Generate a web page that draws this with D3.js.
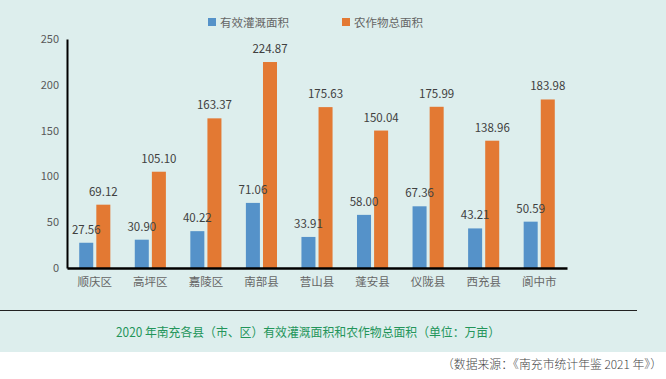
<!DOCTYPE html>
<html><head><meta charset="utf-8">
<script src="https://cdn.jsdelivr.net/npm/d3@7"></script>
<style>html,body{margin:0;padding:0;background:#fff;}svg{display:block;}</style>
</head><body>
<script>
const categories = ["顺庆区","高坪区","嘉陵区","南部县","营山县","蓬安县","仪陇县","西充县","阆中市"];
const seriesNames = ["有效灌溉面积","农作物总面积"];
const irrigated = [27.56,30.90,40.22,71.06,33.91,58.00,67.36,43.21,50.59];
const cropArea = [69.12,105.10,163.37,224.87,175.63,150.04,175.99,138.96,183.98];
const yTicks = [0,50,100,150,200,250];
const colors = ["#5592c9","#e37933"];
const titleText = "2020 年南充各县（市、区）有效灌溉面积和农作物总面积（单位：万亩）";
const sourceText = "（数据来源：《南充市统计年鉴 2021 年》）";

const W = 666, H = 379;
const svg = d3.select("body").append("svg").attr("width", W).attr("height", H);
svg.append("rect").attr("x",0).attr("y",0).attr("width",W).attr("height",352).attr("fill","#ddeeed");

const font = "'Noto Sans CJK SC', 'Noto Sans', sans-serif";
const x0 = d3.scaleBand().domain(categories).range([67,567]).paddingInner(0.44).paddingOuter(0.22);
const x1 = d3.scaleBand().domain(seriesNames).range([0, x0.bandwidth()]).paddingInner(0.18);
const y = d3.scaleLinear().domain([0,250]).range([268,39]);

const data = categories.map((c,i)=>({cat:c, vals:[irrigated[i], cropArea[i]]}));

const g = svg.append("g");
const groups = g.selectAll("g.grp").data(data).join("g").attr("transform", d=>`translate(${x0(d.cat)},0)`);
groups.selectAll("rect").data(d=>d.vals.map((v,j)=>({v, s:seriesNames[j], j})))
  .join("rect")
  .attr("x", d=>x1(d.s)).attr("width", x1.bandwidth())
  .attr("y", d=>y(d.v)).attr("height", d=>y(0)-y(d.v))
  .attr("fill", d=>colors[d.j]);
groups.selectAll("text").data(d=>d.vals.map((v,j)=>({v, s:seriesNames[j], j})))
  .join("text")
  .attr("x", d=>x1(d.s)+x1.bandwidth()/2).attr("y", d=>y(d.v)-9)
  .attr("text-anchor","middle").attr("font-family",font).attr("font-size",11.5)
  .attr("fill","#404040").text(d=>d.v.toFixed(2));

// y axis
const yAxis = d3.axisLeft(y).tickValues(yTicks).tickSize(0).tickPadding(8);
const ya = svg.append("g").attr("transform","translate(67,0)").call(yAxis);
ya.select(".domain").attr("stroke","#000").attr("stroke-width",2);
ya.selectAll("text").attr("font-family",font).attr("font-size",11).attr("fill","#595959");

// x axis
const xAxis = d3.axisBottom(x0).tickSize(0).tickPadding(10);
const xa = svg.append("g").attr("transform","translate(0,268)").call(xAxis);
xa.select(".domain").attr("stroke","#000").attr("stroke-width",2.5);
xa.selectAll("text").attr("font-family",font).attr("font-size",11.5).attr("fill","#666");

// legend
const leg = svg.append("g");
const legX = [208, 342];
seriesNames.forEach((s,i)=>{
  leg.append("rect").attr("x",legX[i]).attr("y",18).attr("width",8).attr("height",8).attr("fill",colors[i]);
  leg.append("text").attr("x",legX[i]+12).attr("y",22).attr("dominant-baseline","central")
    .attr("font-family",font).attr("font-size",11.5).attr("fill","#666").text(s);
});

// separator line
svg.append("line").attr("x1",0).attr("x2",637).attr("y1",310.5).attr("y2",310.5).attr("stroke","#222").attr("stroke-width",1);

// title
svg.append("text").attr("x",116).attr("y",331).attr("dominant-baseline","central")
  .attr("font-family",font).attr("font-size",12.5).attr("fill","#23955a")
  .attr("textLength",384).attr("lengthAdjust","spacingAndGlyphs").text(titleText);

// source
svg.append("text").attr("x",442).attr("y",363).attr("dominant-baseline","central")
  .attr("font-family",font).attr("font-size",12).attr("font-weight",300).attr("fill","#444")
  .attr("textLength",220).attr("lengthAdjust","spacingAndGlyphs").text(sourceText);
</script>
</body></html>
